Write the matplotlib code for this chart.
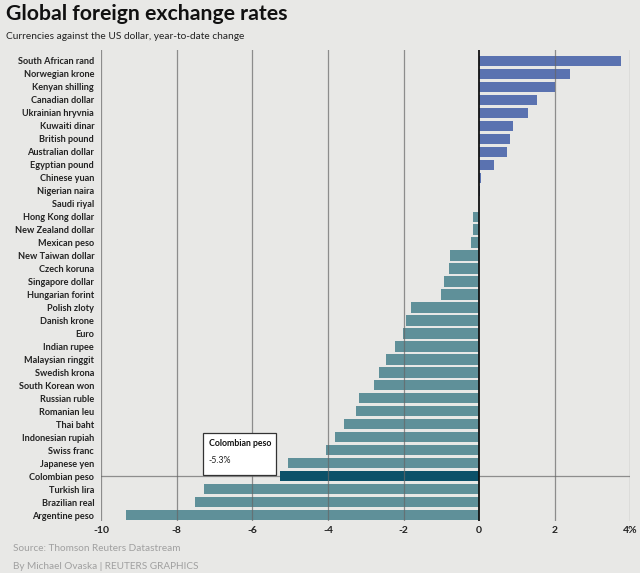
import matplotlib.pyplot as plt
from matplotlib.patches import Rectangle

currencies = ["South African rand", "Norwegian krone", "Kenyan shilling", "Canadian dollar",
              "Ukrainian hryvnia", "Kuwaiti dinar", "British pound", "Australian dollar",
              "Egyptian pound", "Chinese yuan", "Nigerian naira", "Saudi riyal",
              "Hong Kong dollar", "New Zealand dollar", "Mexican peso", "New Taiwan dollar",
              "Czech koruna", "Singapore dollar", "Hungarian forint", "Polish zloty",
              "Danish krone", "Euro", "Indian rupee", "Malaysian ringgit", "Swedish krona",
              "South Korean won", "Russian ruble", "Romanian leu", "Thai baht",
              "Indonesian rupiah", "Swiss franc", "Japanese yen", "Colombian peso",
              "Turkish lira", "Brazilian real", "Argentine peso"]
change = [3.75, 2.39, 2.0, 1.53, 1.28, 0.9, 0.81, 0.73, 0.38, 0.06, 0.02, 0.0,
          -0.16, -0.17, -0.22, -0.77, -0.81, -0.94, -1.02, -1.8, -1.94, -2.01,
          -2.22, -2.47, -2.64, -2.78, -3.17, -3.25, -3.58, -3.82, -4.06, -5.06,
          -5.27, -7.28, -7.53, -9.33]
highlight = "Colombian peso"
xticks = [-10, -8, -6, -4, -2, 0, 2, 4]
xticklabels = ["-10", "-8", "-6", "-4", "-2", "0", "2", "4%"]

bg = "#e8e8e6"
pos_col = "#5a72b0"
neg_col = "#5f9099"
hi_col = "#0c5169"

plt.rcParams['font.family'] = ['Lato', 'DejaVu Sans']

fig = plt.figure(figsize=(6.4, 5.73), dpi=100, facecolor=bg)
ax = fig.add_axes([0.158, 0.091, 0.827, 0.822], facecolor=bg)

ypos = list(range(len(currencies)))
colors = []
for name, v in zip(currencies, change):
    if name == highlight:
        colors.append(hi_col)
    elif v > 0:
        colors.append(pos_col)
    else:
        colors.append(neg_col)
ax.barh(ypos, change, height=0.79, color=colors, zorder=2)

hi = currencies.index(highlight)
for x in xticks:
    if x == 0:
        ax.axvline(x, color="#111111", lw=1.3, zorder=4)
    else:
        ax.axvline(x, color="#666666", lw=0.9, alpha=0.7, zorder=3)
ax.axhline(hi, color="#777777", lw=0.9, alpha=0.8, zorder=1)

ax.set_xlim(-10, 4)
ax.set_ylim(len(currencies) - 0.56, -0.85)
ax.set_xticks(xticks)
ax.set_xticklabels(xticklabels, fontsize=7.5, fontweight="bold", color="#222222")
ax.set_yticks(ypos)
ax.set_yticklabels(currencies, fontsize=6.6, fontweight="bold", color="#222222")
ax.tick_params(length=0, pad=4)
ax.tick_params(axis="y", pad=5)
for s in ax.spines.values():
    s.set_visible(False)

# annotation box for the highlighted currency
ax.add_patch(Rectangle((-7.3, hi - 0.1), 1.93, -3.2, facecolor="white",
                       edgecolor="#333333", lw=0.9, zorder=5))
ax.text(-7.15, hi - 2.55, highlight, fontsize=6.3, fontweight="bold",
        color="#111111", va="center", zorder=6)
ax.text(-7.15, hi - 1.2, f"{change[hi]:.1f}%", fontsize=6.3,
        color="#222222", va="center", zorder=6)

fig.text(0.009, 0.976, "Global foreign exchange rates", fontsize=15.3, fontweight="bold",
         color="#111111", va="center")
fig.text(0.009, 0.937, "Currencies against the US dollar, year-to-date change",
         fontsize=7.3, color="#222222", va="center")
fig.text(0.02, 0.042, "Source: Thomson Reuters Datastream", fontsize=7.2,
         color="#a0a0a0", va="center")
fig.text(0.02, 0.012, "By Michael Ovaska | REUTERS GRAPHICS", fontsize=7.2,
         color="#a0a0a0", va="center")

fig.savefig("out.png", dpi=100, facecolor=bg)
